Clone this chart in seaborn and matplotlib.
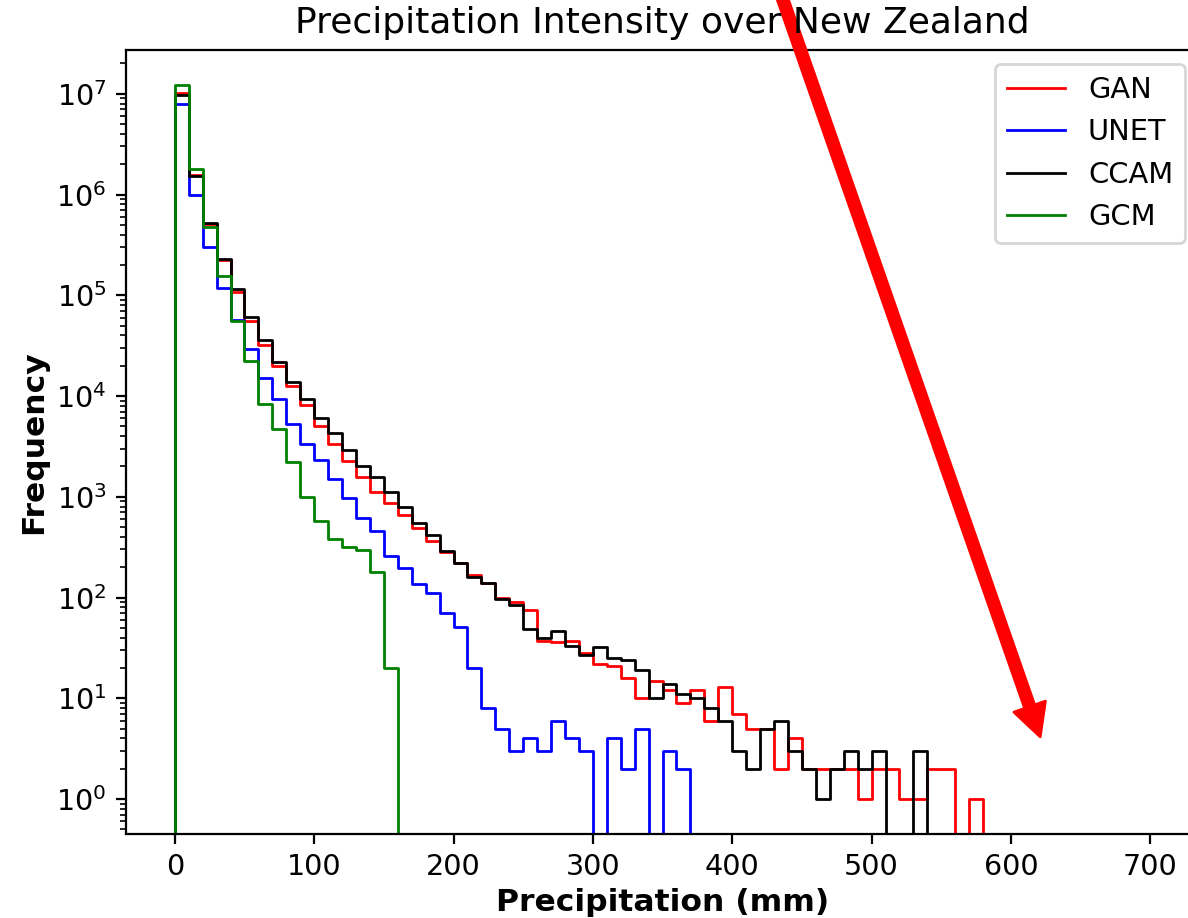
import numpy as np
import pandas as pd
import seaborn as sns
import matplotlib.pyplot as plt

# histogram counts per 10 mm bin, bins 0-10, 10-20, ..., 570-580
gan = [1.03e7, 1.57e6, 5.1e5, 2.25e5, 1.07e5, 5.6e4, 3.2e4, 1.97e4, 1.25e4, 8.1e3,
       5.05e3, 3.34e3, 2.28e3, 1.58e3, 1.11e3, 861, 655, 493, 362, 282,
       221, 166, 140, 98, 90, 75, 37, 36, 37, 28,
       22, 21, 16, 10, 15, 12, 9, 12, 6, 13,
       7, 5, 5, 2, 4, 2, 2, 2, 2, 1,
       2, 2, 1, 1, 2, 2, 0, 1]
unet = [7.96e6, 9.8e5, 3.0e5, 1.19e5, 5.7e4, 2.9e4, 1.52e4, 9.3e3, 5.25e3, 3.34e3,
        2.3e3, 1.5e3, 973, 617, 461, 258, 195, 137, 110, 70,
        51, 20, 8, 5, 3, 4, 3, 6, 4, 3,
        0, 4, 2, 5, 0, 3, 2, 0, 0, 0,
        0, 0, 0, 0, 0, 0, 0, 0, 0, 0,
        0, 0, 0, 0, 0, 0, 0, 0]
ccam = [0.98e7, 1.53e6, 5.27e5, 2.31e5, 1.15e5, 6.15e4, 3.6e4, 2.16e4, 1.39e4, 9.3e3,
        6.1e3, 4.27e3, 2.94e3, 2.04e3, 1.57e3, 1.11e3, 795, 548, 420, 291,
        220, 160, 140, 97, 85, 49, 40, 47, 33, 27,
        32, 25, 24, 19, 10, 14, 11, 10, 8, 6,
        3, 2, 5, 6, 3, 2, 1, 2, 3, 2,
        3, 0, 0, 3, 0, 0, 0, 0]
gcm = [1.21e7, 1.80e6, 4.8e5, 1.54e5, 5.6e4, 2.24e4, 8.4e3, 4.7e3, 2.2e3, 990,
       580, 381, 320, 297, 179, 20, 0, 0, 0, 0,
       0, 0, 0, 0, 0, 0, 0, 0, 0, 0,
       0, 0, 0, 0, 0, 0, 0, 0, 0, 0,
       0, 0, 0, 0, 0, 0, 0, 0, 0, 0,
       0, 0, 0, 0, 0, 0, 0, 0]

series = [('GAN', gan, 'red'), ('UNET', unet, 'blue'),
          ('CCAM', ccam, 'black'), ('GCM', gcm, 'green')]

bin_width = 10
# one empty bin either side so the step outline drops to the axis
edges = list(range(-bin_width, 590 + bin_width, bin_width))
centers = np.arange(len(gan)) * bin_width + bin_width / 2

fig = plt.figure(figsize=(5.94, 4.59), dpi=200)
ax = fig.add_axes([0.1061, 0.0915, 0.9032, 0.8540])

for name, counts, col in series:
    df = pd.DataFrame({'precip': centers, 'count': counts})
    sns.histplot(data=df, x='precip', weights='count', bins=edges, element='step',
                 fill=False, color=col, linewidth=1.0, label=name, ax=ax)

ax.set_yscale('log')
ax.set_xlim(-35, 735)
ax.set_ylim(0.45, 2.72e7)
ax.tick_params(labelsize=10.3)
ax.set_title('Precipitation Intensity over New Zealand', fontsize=13)
ax.set_xlabel('Precipitation (mm)', fontsize=11.3, fontweight='bold', labelpad=2.5)
ax.set_ylabel('Frequency', fontsize=11.3, fontweight='bold', labelpad=3)
ax.legend(loc='upper right', fontsize=10.4)

# big red arrow pointing at the empty tail
ax.annotate('', xy=(621, 4.15), xycoords='data',
            xytext=(0.6526, 1.024), textcoords='figure fraction',
            arrowprops=dict(facecolor='red', edgecolor='red', width=3.8,
                            headwidth=12, headlength=11.5, shrink=0),
            annotation_clip=False)

plt.savefig('out.png', dpi=200)
